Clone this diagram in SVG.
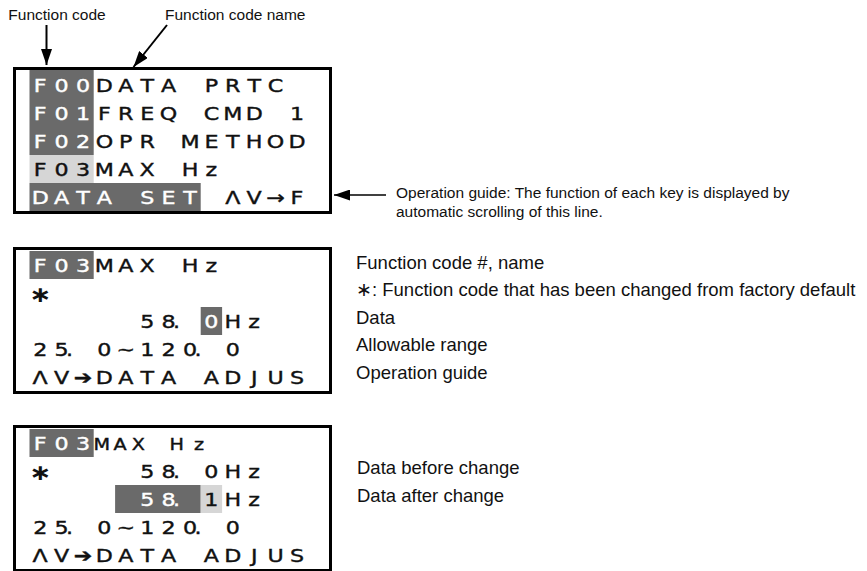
<svg xmlns="http://www.w3.org/2000/svg" width="867" height="571" viewBox="0 0 867 571">
<style>
  .bg{fill:#ffffff}
  .frame{fill:none;stroke:#000;stroke-width:3}
  .dk{fill:#6a6a6a}
  .lt{fill:#d6d6d6}
  .lcd{font-family:"DejaVu Sans",sans-serif;font-size:18.5px;text-anchor:middle;fill:#111;stroke:#111;stroke-width:0.4}
  .lcd.w{fill:#ffffff;stroke:#ffffff}
  .lcd.sm{font-size:16px}
  .ast{font-family:"DejaVu Sans",sans-serif;font-size:22px;font-weight:bold;text-anchor:middle;fill:#111}
  .lbl{font-family:"Liberation Sans",Arial,sans-serif;font-size:15.5px;fill:#111}
  .desc{font-family:"Liberation Sans",Arial,sans-serif;font-size:18.5px;fill:#111}
  .guide{font-family:"Liberation Sans",Arial,sans-serif;font-size:15.5px;fill:#111}
  .conn{stroke:#000;fill:none}
</style>
<defs>
  <marker id="head" markerUnits="userSpaceOnUse" markerWidth="16" markerHeight="11" refX="16" refY="5.5" orient="auto">
    <path d="M0,0 L16,5.5 L0,11 z" fill="#000"/>
  </marker>
</defs>
<rect class="bg" x="0" y="0" width="867" height="571"/>

<g id="label-function-code">
  <text class="lbl" x="8.3" y="19.5">Function code</text>
</g>
<g id="label-function-code-name">
  <text class="lbl" x="165" y="19.5">Function code name</text>
</g>

<!-- LCD text is drawn in a horizontally stretched group (scale 1.2); x values are cell centres / 1.2 -->
<g id="lcd-function-list">
  <rect class="dk" x="29.5" y="70" width="64.2" height="85"/>
  <rect class="lt" x="29.5" y="155" width="64.2" height="28"/>
  <rect class="dk" x="29.5" y="183" width="171.2" height="28"/>
  <g transform="scale(1.2 1)">
    <text class="lcd w" x="33.5 51.33 69.17" y="91.7">F00</text>
    <text class="lcd" x="87 104.83 122.67 140.5 158.33 176.17 194 211.83 229.67" y="91.7">DATA PRTC</text>
    <text class="lcd w" x="33.5 51.33 69.17" y="119.7">F01</text>
    <text class="lcd" x="87 104.83 122.67 140.5 158.33 176.17 194 211.83 229.67 247.5" y="119.7">FREQ CMD 1</text>
    <text class="lcd w" x="33.5 51.33 69.17" y="147.7">F02</text>
    <text class="lcd" x="87 104.83 122.67 140.5 158.33 176.17 194 211.83 229.67 247.5" y="147.7">OPR METHOD</text>
    <text class="lcd" x="33.5 51.33 69.17" y="175.7">F03</text>
    <text class="lcd" x="87 104.83 122.67 140.5 158.33 176.17" y="175.7">MAX Hz</text>
    <text class="lcd w" x="33.5 51.33 69.17 87 104.83 122.67 140.5 158.33" y="203.7">DATA SET</text>
    <text class="lcd" x="194 211.83 229.67 247.5" y="203.7">ΛV→F</text>
  </g>
  <rect class="frame" x="14.5" y="68.5" width="316" height="144"/>
</g>

<g id="label-operation-guide">
  <text class="guide" x="396" y="198">Operation guide: The function of each key is displayed by</text>
  <text class="guide" x="396" y="216.5">automatic scrolling of this line.</text>
</g>

<g id="lcd-data-setting">
  <rect class="dk" x="29.5" y="251" width="64.2" height="28"/>
  <rect class="dk" x="200.7" y="307" width="21.4" height="28"/>
  <g transform="scale(1.2 1)">
    <text class="lcd w" x="33.5 51.33 69.17" y="271.7">F03</text>
    <text class="lcd" x="87 104.83 122.67 140.5 158.33 176.17" y="271.7">MAX Hz</text>
    <text class="ast" x="33.5" y="302">∗</text>
    <text class="lcd" x="122.67 140.5 147.17" y="327.7">58.</text>
    <text class="lcd w" x="176.17" y="327.7">0</text>
    <text class="lcd" x="194 211.83" y="327.7">Hz</text>
    <text class="lcd" x="33.5 51.33 58 69.17 87 104.83 122.67 140.5 158.33 165 175.83 194" y="355.7">25. 0~120. 0</text>
    <text class="lcd" x="33.5 51.33 69.17 87 104.83 122.67 140.5 158.33 176.17 194 211.83 229.67 247.5" y="383.7">ΛV➔DATA ADJUS</text>
  </g>
  <rect class="frame" x="14.5" y="248.5" width="316" height="144"/>
</g>

<g id="desc-data-setting">
  <text class="desc" x="356" y="268.5">Function code #, name</text>
  <text class="desc" x="356" y="296">∗: Function code that has been changed from factory default</text>
  <text class="desc" x="356" y="323.5">Data</text>
  <text class="desc" x="356" y="351">Allowable range</text>
  <text class="desc" x="356" y="378.5">Operation guide</text>
</g>

<g id="lcd-data-change">
  <rect class="dk" x="29.5" y="429" width="64.2" height="28"/>
  <rect class="dk" x="115.1" y="485" width="85.6" height="28"/>
  <rect class="lt" x="200.7" y="485" width="21.4" height="28"/>
  <g transform="scale(1.2 1)">
    <text class="lcd w" x="33.5 51.33 69.17" y="449.7">F03</text>
    <text class="lcd sm" x="84.75 100 115.25 130.83 147.25 165.83" y="449.7">MAX Hz</text>
    <text class="ast" x="33.5" y="480">∗</text>
    <text class="lcd" x="122.67 140.5 147.17 158.33 176.17 194 211.83" y="477.7">58. 0Hz</text>
    <text class="lcd w" x="122.67 140.5 147.17" y="505.7">58.</text>
    <text class="lcd" x="176.17 194 211.83" y="505.7">1Hz</text>
    <text class="lcd" x="33.5 51.33 58 69.17 87 104.83 122.67 140.5 158.33 165 175.83 194" y="533.7">25. 0~120. 0</text>
    <text class="lcd" x="33.5 51.33 69.17 87 104.83 122.67 140.5 158.33 176.17 194 211.83 229.67 247.5" y="561.7">ΛV➔DATA ADJUS</text>
  </g>
  <rect class="frame" x="14.5" y="426.5" width="316" height="144"/>
</g>

<g id="desc-data-change">
  <text class="desc" x="357" y="474">Data before change</text>
  <text class="desc" x="357" y="501.5">Data after change</text>
</g>

<g id="connectors">
  <line class="conn" stroke-width="2" x1="46.5" y1="25" x2="46.5" y2="65" marker-end="url(#head)"/>
  <line class="conn" stroke-width="2" x1="167" y1="25" x2="133.5" y2="67" marker-end="url(#head)"/>
  <line class="conn" stroke-width="1.5" x1="386" y1="195" x2="334" y2="195" marker-end="url(#head)"/>
</g>
</svg>
